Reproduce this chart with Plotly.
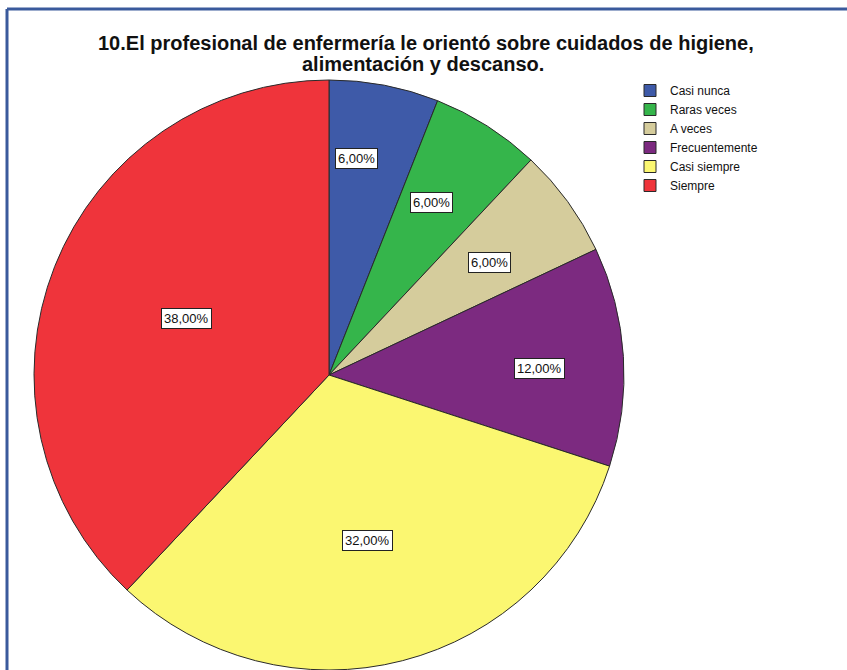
import math
import plotly.graph_objects as go

categories = ["Casi nunca", "Raras veces", "A veces", "Frecuentemente", "Casi siempre", "Siempre"]
percentages = [6.0, 6.0, 6.0, 12.0, 32.0, 38.0]
label_texts = ["6,00%", "6,00%", "6,00%", "12,00%", "32,00%", "38,00%"]

colors = ["#3E5AA8", "#35B54B", "#D5CC9C", "#7C2A80", "#FBF771", "#EF343B"]
# label placement inside each slice (radial fraction, fraction of the slice's angular span)
label_radius_frac = [0.74, 0.68, 0.665, 0.715, 0.575, 0.52]
label_angle_frac = [0.34, 0.43, 0.55, 0.54, 0.51, 0.50]

W, H = 847, 670
cx_px = 329
top_px = 80
bottom_px = 670
r_px = (bottom_px - top_px) / 2
cy_px = (top_px + bottom_px) / 2

fig = go.Figure(go.Pie(
    labels=categories,
    values=percentages,
    sort=False,
    direction="clockwise",
    rotation=0,
    marker=dict(colors=colors, line=dict(color="#2a2a2a", width=1)),
    textinfo="none",
    hoverinfo="label+percent",
    domain=dict(x=[(cx_px - r_px) / W, (cx_px + r_px) / W],
                y=[1 - bottom_px / H, 1 - top_px / H]),
))

annotations = []
total = sum(percentages)
cum = 0.0
for val, txt, rf, af in zip(percentages, label_texts, label_radius_frac, label_angle_frac):
    ang = (cum + val * af) / total * 2 * math.pi
    cum += val
    x = cx_px + rf * r_px * math.sin(ang)
    y = cy_px - rf * r_px * math.cos(ang)
    annotations.append(dict(
        x=x / W, y=1 - y / H, xref="paper", yref="paper",
        xanchor="center", yanchor="middle",
        text=txt, showarrow=False,
        font=dict(family="Liberation Sans, Arial", size=13, color="#111111"),
        bgcolor="white", bordercolor="#222222", borderwidth=1, borderpad=2,
    ))

title_font = dict(family="Liberation Sans, Arial", size=20, color="#111111")
annotations.append(dict(
    x=426 / W, y=1 - 43 / H, xref="paper", yref="paper", xanchor="center", yanchor="middle",
    text="<b>10.El profesional de enfermería le orientó sobre cuidados de higiene,</b>",
    showarrow=False, font=title_font,
))
annotations.append(dict(
    x=423 / W, y=1 - 64 / H, xref="paper", yref="paper", xanchor="center", yanchor="middle",
    text="<b>alimentación y descanso.</b>",
    showarrow=False, font=title_font,
))

fig.update_layout(
    width=W, height=H,
    margin=dict(l=0, r=0, t=0, b=0),
    paper_bgcolor="white",
    plot_bgcolor="white",
    legend=dict(
        x=630 / W, y=1 - 76 / H, xanchor="left", yanchor="top",
        font=dict(family="Liberation Sans, Arial", size=12, color="#111111"),
        bgcolor="rgba(0,0,0,0)", tracegroupgap=0,
    ),
    annotations=annotations,
    shapes=[
        dict(type="line", xref="paper", yref="paper", x0=7 / W, x1=1.01, y0=1 - 9 / H, y1=1 - 9 / H,
             line=dict(color="#3A5A9C", width=3)),
        dict(type="line", xref="paper", yref="paper", x0=7 / W, x1=7 / W, y0=1 - 9 / H, y1=-0.01,
             line=dict(color="#3A5A9C", width=3)),
    ],
)

fig.write_html("out.html")
